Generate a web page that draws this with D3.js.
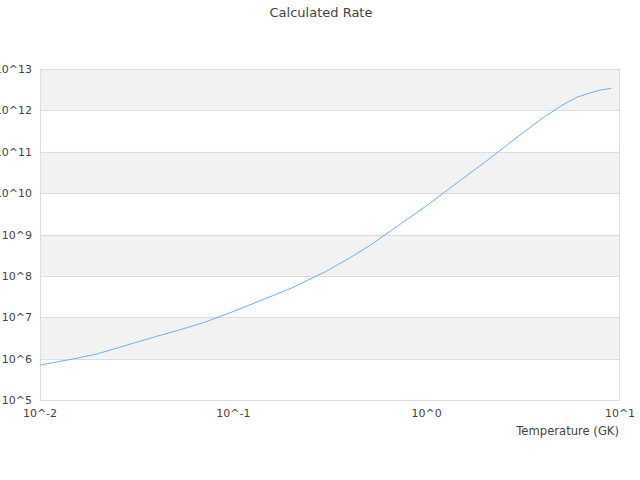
<!DOCTYPE html>
<html><head><meta charset="utf-8">
<script src="https://cdn.jsdelivr.net/npm/d3@7"></script>
<style>body{margin:0;background:#fff;}svg{display:block;font-family:"DejaVu Sans",sans-serif;}</style>
</head><body>
<svg id="c" width="640" height="480"></svg>
<script>
const title = "Calculated Rate";
const xTitle = "Temperature (GK)";
const temperatures = [0.01, 0.015, 0.02, 0.03, 0.04, 0.05, 0.07, 0.1, 0.15, 0.2, 0.3, 0.4, 0.5, 0.7, 1.0, 1.5, 2, 3, 4, 5, 6, 7, 8, 9];
const rates = [7.0e5, 9.9e5, 1.32e6, 2.32e6, 3.44e6, 4.6e6, 7.4e6, 1.38e7, 2.95e7, 5.07e7, 1.27e8, 2.72e8, 5.16e8, 1.55e9, 4.99e9, 2.07e10, 5.61e10, 2.42e11, 6.65e11, 1.32e12, 2.09e12, 2.65e12, 3.13e12, 3.40e12];
const xTickExps = [-2, -1, 0, 1];
const yTickExps = [5, 6, 7, 8, 9, 10, 11, 12, 13];

const svg = d3.select("#c");
const L = 40, R = 620, T = 69, B = 400;
const x = d3.scaleLog().domain([1e-2, 1e1]).range([L, R]);
const y = d3.scaleLog().domain([1e5, 1e13]).range([B, T]);

// bands
for (let i = 0; i < yTickExps.length - 1; i++) {
  const e = yTickExps[i];
  if (e % 2 === 0) {
    svg.append("rect").attr("x", L).attr("width", R - L)
      .attr("y", y(Math.pow(10, e + 1))).attr("height", y(Math.pow(10, e)) - y(Math.pow(10, e + 1)))
      .attr("fill", "#f2f2f2");
  }
}
// gridlines
svg.append("g").selectAll("line").data(yTickExps).join("line")
  .attr("x1", L).attr("x2", R)
  .attr("y1", d => Math.round(y(Math.pow(10, d))) + 0.5).attr("y2", d => Math.round(y(Math.pow(10, d))) + 0.5)
  .attr("stroke", "#dddddd");
svg.append("rect").attr("x", L + 0.5).attr("y", T + 0.5).attr("width", R - L - 1).attr("height", B - T)
  .attr("fill", "none").attr("stroke", "#dddddd");

// y labels
svg.append("g").selectAll("text").data(yTickExps).join("text")
  .attr("x", 32).attr("y", d => y(Math.pow(10, d)) + 4)
  .attr("text-anchor", "end").attr("font-size", 11).attr("fill", "#444")
  .text(d => "10^" + d);
// x labels
svg.append("g").selectAll("text").data(xTickExps).join("text")
  .attr("x", d => x(Math.pow(10, d))).attr("y", 417)
  .attr("text-anchor", "middle").attr("font-size", 11).attr("fill", "#444")
  .text(d => "10^" + d);

svg.append("text").attr("x", R - 1).attr("y", 435).attr("text-anchor", "end")
  .attr("font-size", 11.6).attr("fill", "#444").text(xTitle);
svg.append("text").attr("x", 321).attr("y", 17).attr("text-anchor", "middle")
  .attr("font-size", 13).attr("fill", "#444").text(title);

const line = d3.line().x((d, i) => x(temperatures[i])).y(d => y(d));
svg.append("path").datum(rates).attr("d", line)
  .attr("fill", "none").attr("stroke", "#6eb0f2").attr("stroke-width", 1);
</script>
</body></html>
